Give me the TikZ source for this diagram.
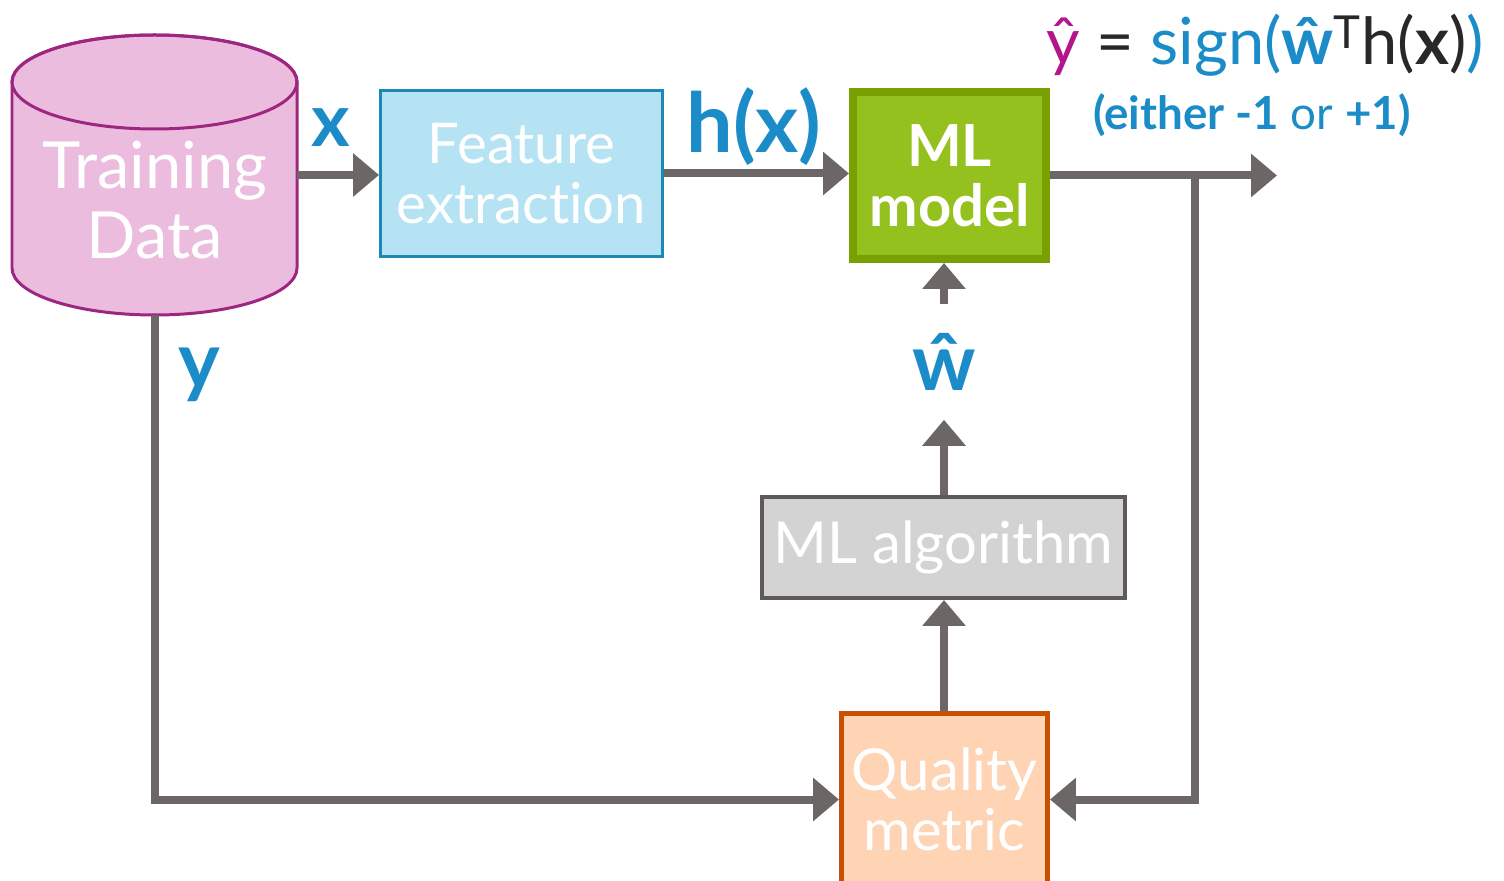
\documentclass[tikz,border=0pt]{standalone}
\usepackage{fontspec}
\setmainfont[Ligatures=NoCommon]{Lato}
\usetikzlibrary{positioning,shapes.geometric,arrows.meta,shadows}
\definecolor{flowgray}{RGB}{109,102,102}
\definecolor{mlblue}{RGB}{27,140,200}
\definecolor{yhatpink}{RGB}{178,22,138}
\definecolor{darktext}{RGB}{40,40,40}
\definecolor{datapink}{RGB}{235,188,221}
\definecolor{datapurple}{RGB}{156,38,128}
\definecolor{featfill}{RGB}{181,227,243}
\definecolor{featblue}{RGB}{28,136,181}
\definecolor{modelfill}{RGB}{149,193,31}
\definecolor{modelgreen}{RGB}{119,160,0}
\definecolor{algofill}{RGB}{212,211,211}
\definecolor{algogray}{RGB}{95,89,89}
\definecolor{qualfill}{RGB}{254,212,180}
\definecolor{qualorange}{RGB}{200,80,0}

\begin{document}
\begin{tikzpicture}[x=0.02cm,y=-0.02cm,
  box/.style={draw,rectangle,text=white,align=center,inner sep=0pt},
  flow/.style={draw=flowgray,line width=0.16cm,-{Triangle[length=0.52cm,width=0.84cm]}},
  lbl/.style={text=mlblue,inner sep=0pt,font=\bfseries\fontsize{42}{46}\selectfont}]
\clip (0,0) rectangle (1504,881);
% training data cylinder
\draw[draw=datapurple,fill=datapink,line width=0.06cm] (12,82) -- (12,268)
  arc[start angle=180,end angle=0,x radius=142.5,y radius=47] -- (297,82)
  arc[start angle=0,end angle=-180,x radius=142.5,y radius=47] -- cycle;
\draw[draw=datapurple,line width=0.06cm] (154.5,82) ellipse[x radius=142.5,y radius=47];
\node[minimum width=5.7cm,minimum height=5.6cm,inner sep=0pt] (data) at (154.5,175) {};
\node[text=white,align=center,font=\fontsize{37}{40}\selectfont] (datatext) at (155,200) {Training\\Data};
% boxes
\node[box,draw=featblue,fill=featfill,line width=0.06cm,minimum width=5.64cm,minimum height=3.32cm,
  font=\fontsize{32}{34}\selectfont] (feat) at (521.5,173.5) {Feature\\extraction};
\node[box,draw=modelgreen,fill=modelfill,line width=0.16cm,minimum width=3.86cm,minimum height=3.34cm,
  font=\bfseries\fontsize{33}{34}\selectfont,
  drop shadow={shadow xshift=0.08cm,shadow yshift=-0.08cm,opacity=0.25}] (model) at (949.5,175.5) {ML\\model};
\node[box,draw=algogray,fill=algofill,line width=0.08cm,minimum width=7.26cm,minimum height=2.02cm,
  font=\fontsize{33}{36}\selectfont] (algo) at (943.5,547.5) {ML algorithm};
\node[box,draw=qualorange,fill=qualfill,line width=0.1cm,minimum width=4.12cm,minimum height=3.44cm,
  font=\fontsize{33}{34}\selectfont] (qual) at (944.5,799.5) {Quality\\metric};
% labels
\node[lbl] (xlbl) at (331,128) {x};
\node[lbl,font=\bfseries\fontsize{47}{50}\selectfont] (hlbl) at (754,127) {h(x)};
\node[lbl,font=\bfseries\fontsize{45}{48}\selectfont] (ylbl) at (199,375) {y};
\node[lbl,font=\bfseries\fontsize{45}{48}\selectfont,minimum height=2.3cm] (what) at (944,362) {ŵ};
\node[inner sep=0pt,text=darktext,font=\fontsize{37}{40}\selectfont] (pred) at (1265,45)
  {\textcolor{yhatpink}{ŷ} = \textcolor{mlblue}{sign(\textbf{ŵ}}\textsuperscript{T}h(\textbf{x})\textcolor{mlblue}{)}};
\node[inner sep=0pt,text=mlblue,font=\fontsize{26}{28}\selectfont] (either) at (1252,115)
  {\textbf{(either -1} or \textbf{+1)}};
% connectors
\coordinate (split) at (1195,175.5);
\coordinate (out) at (1277,175.5);
\draw[flow] (data.east) -- (data.east -| feat.west);
\draw[flow] (feat.east) -- (feat.east -| model.west);
\draw[flow] (model.east) -- (out);
\draw[flow] (split) |- (qual.east);
\draw[flow] (data.south) |- (qual.west);
\draw[flow] (qual.north -| what) -- (algo.south -| what);
\draw[flow] (algo.north -| what) -- (what.south);
\draw[flow] (what.north) -- (model.south -| what);
\end{tikzpicture}
\end{document}
